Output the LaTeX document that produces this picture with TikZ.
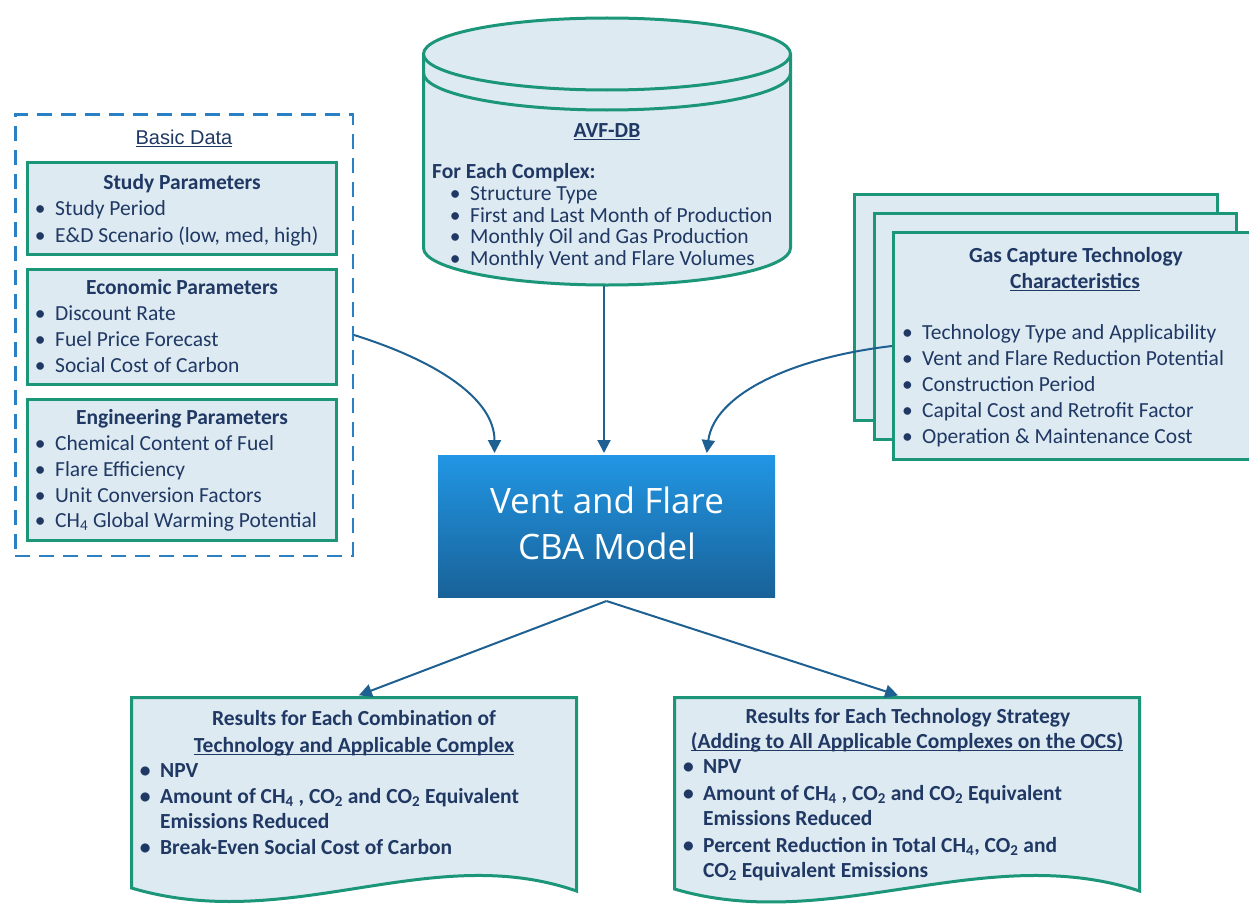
\documentclass[tikz,border=0pt]{standalone}
\usepackage{fontspec}
\setmainfont{Carlito}
\newfontfamily\arialf{Liberation Sans}
\newfontfamily\cbaf{Open Sans}
\usetikzlibrary{arrows.meta}
\definecolor{navy}{RGB}{31,56,100}
\definecolor{gborder}{RGB}{28,150,120}
\definecolor{bfill}{RGB}{222,234,241}
\definecolor{dashblue}{RGB}{41,128,196}
\definecolor{arrblue}{RGB}{30,96,145}
\definecolor{cbatop}{RGB}{33,150,228}
\definecolor{cbabot}{RGB}{25,98,152}
\newsavebox\ulbox
\newcommand{\myul}[1]{\sbox\ulbox{#1}\rlap{\rule[-2.8pt]{\wd\ulbox}{1.2pt}}\usebox\ulbox}
\newcommand{\bul}{\llap{\textbullet\hspace{9.5pt}}}
\begin{document}
\begin{tikzpicture}[x=1pt,y=-1pt,
  gbox/.style={draw=gborder, line width=3pt, fill=bfill, inner sep=0pt, anchor=north west},
  txt/.style={inner sep=0pt, text=navy, font=\fontsize{21.5pt}{26pt}\selectfont},
  ttl/.style={txt, anchor=base, font=\fontsize{21.5pt}{26pt}\selectfont\bfseries},
  itm/.style={txt, anchor=base west},
  bitm/.style={txt, anchor=base west, font=\fontsize{21.5pt}{26pt}\selectfont\bfseries},
  cbatxt/.style={inner sep=0pt, anchor=base, text=white, font=\cbaf\fontsize{35pt}{42pt}\selectfont},
  arr/.style={draw=arrblue, line width=2pt, -{Triangle[width=13pt,length=13pt]}, shorten >=2pt},
  docshape/.style={draw=gborder, fill=bfill, line width=3pt}
]
\useasboundingbox (0,0) rectangle (1249,907);

% ---------- Basic data ----------
\node[draw=dashblue, line width=2.5pt, dash pattern=on 15pt off 9pt, minimum width=337.5pt, minimum height=441.5pt, anchor=north west, inner sep=0pt] (basic) at (14,113) {};
\node[txt, anchor=base, font=\arialf\fontsize{20pt}{24pt}\selectfont] (basicT) at (184,144) {\myul{Basic Data}};

\node[gbox, minimum width=309pt, minimum height=92pt] (study) at (26,161) {};
\node[ttl] (studyT) at (182,189) {Study Parameters};
\node[itm] (study1) at (55,215) {\bul Study Period};
\node[itm] (study2) at (55,242) {\bul E\&D Scenario (low, med, high)};

\node[gbox, minimum width=309pt, minimum height=115pt] (econ) at (26,268) {};
\node[ttl] (econT) at (182,294) {Economic Parameters};
\node[itm] (econ1) at (55,320) {\bul Discount Rate};
\node[itm] (econ2) at (55,346) {\bul Fuel Price Forecast};
\node[itm] (econ3) at (55,372) {\bul Social Cost of Carbon};

\node[gbox, minimum width=309pt, minimum height=141pt] (eng) at (26,398) {};
\node[ttl] (engT) at (182,424) {Engineering Parameters};
\node[itm] (eng1) at (55,450) {\bul Chemical Content of Fuel};
\node[itm] (eng2) at (55,476) {\bul Flare Efficiency};
\node[itm] (eng3) at (55,502) {\bul Unit Conversion Factors};
\node[itm] (eng4) at (55,527) {\bul CH\textsubscript{4} Global Warming Potential};

% ---------- AVF-DB cylinder ----------
\fill[bfill] (423.5,54) -- (423.5,248) .. controls (423.5,268.4) and (505.5,285) .. (607,285) .. controls (708.5,285) and (790.5,268.4) .. (790.5,248) -- (790.5,54) -- cycle;
\draw[gborder, line width=3pt] (423.5,54) -- (423.5,248) .. controls (423.5,268.4) and (505.5,285) .. (607,285) .. controls (708.5,285) and (790.5,268.4) .. (790.5,248) -- (790.5,54);
\draw[gborder, line width=3pt, fill=bfill] (607,54) ellipse [x radius=183.5, y radius=36];
\draw[gborder, line width=3pt] (423.5,73) .. controls (423.5,93.4) and (505.5,110) .. (607,110) .. controls (708.5,110) and (790.5,93.4) .. (790.5,73);
\coordinate (cylbot) at (604,286);

\node[ttl] (avf) at (607,137) {\myul{AVF-DB}};
\node[bitm] (fec) at (432,178) {For Each Complex:};
\node[itm] (avf1) at (470,200) {\bul Structure Type};
\node[itm] (avf2) at (470,222) {\bul First and Last Month of Production};
\node[itm] (avf3) at (470,243) {\bul Monthly Oil and Gas Production};
\node[itm] (avf4) at (470,265) {\bul Monthly Vent and Flare Volumes};

% ---------- Gas capture stack ----------
\node[gbox, minimum width=363pt, minimum height=226pt] (gasB) at (853,193) {};
\node[gbox, minimum width=362pt, minimum height=226pt] (gasM) at (873,212) {};
\node[gbox, minimum width=357pt, minimum height=227pt] (gasF) at (892,231) {};
\node[ttl] (gasT1) at (1076,262) {Gas Capture Technology};
\node[ttl] (gasT2) at (1075,288) {\myul{Characteristics}};
\node[itm] (gas1) at (922,339) {\bul Technology Type and Applicability};
\node[itm] (gas2) at (922,365) {\bul Vent and Flare Reduction Potential};
\node[itm] (gas3) at (922,391) {\bul Construction Period};
\node[itm] (gas4) at (922,417) {\bul Capital Cost and Retrofit Factor};
\node[itm] (gas5) at (922,443) {\bul Operation \& Maintenance Cost};

% ---------- CBA model ----------
\node[top color=cbatop, bottom color=cbabot, minimum width=337pt, minimum height=142pt, anchor=north west, inner sep=0pt, outer sep=0pt] (cba) at (438,455) {};
\node[cbatxt] (cba1) at (607,513) {Vent and Flare};
\node[cbatxt] (cba2) at (607,559) {CBA Model};

% ---------- Results ----------
\draw[docshape] (131.5,697.5) -- (576.5,697.5) -- (576.5,891) .. controls (430,840) and (290,935) .. (131.5,888) -- cycle;
\coordinate (resL) at (357,696);
\node[ttl] (rl1) at (354,725) {Results for Each Combination of};
\node[ttl] (rl2) at (354,752) {\myul{Technology and Applicable Complex}};
\node[bitm] (rla) at (160,777) {\bul NPV};
\node[bitm] (rlb) at (160,803) {\bul Amount of CH\textsubscript{4} , CO\textsubscript{2} and CO\textsubscript{2} Equivalent};
\node[bitm] (rlc) at (160,828) {Emissions Reduced};
\node[bitm] (rld) at (160,854) {\bul Break-Even Social Cost of Carbon};

\draw[docshape] (674.5,697.5) -- (1139.5,697.5) -- (1139.5,891) .. controls (985,840) and (830,935) .. (674.5,889) -- cycle;
\coordinate (resR) at (900,696);
\node[ttl] (rr1) at (908,723) {Results for Each Technology Strategy};
\node[ttl] (rr2) at (907,748) {\myul{(Adding to All Applicable Complexes on the OCS)}};
\node[bitm] (rra) at (703,773) {\bul NPV};
\node[bitm] (rrb) at (703,800) {\bul Amount of CH\textsubscript{4} , CO\textsubscript{2} and CO\textsubscript{2} Equivalent};
\node[bitm] (rrc) at (703,825) {Emissions Reduced};
\node[bitm] (rrd) at (703,852) {\bul Percent Reduction in Total CH\textsubscript{4}, CO\textsubscript{2} and};
\node[bitm] (rre) at (703,877) {CO\textsubscript{2} Equivalent Emissions};

% ---------- Connectors ----------
\draw[arr] (basic.east) .. controls (440,362) and (494.5,400) .. ([xshift=-112pt]cba.north);
\draw[arr] (cylbot) -- (cylbot |- cba.north);
\draw[arr] (gasF.west) .. controls (790,358) and (714,395) .. ([xshift=100pt]cba.north);
\draw[arr] ([yshift=-4pt]cba.south) -- (resL);
\draw[arr] ([yshift=-4pt]cba.south) -- (resR);
\end{tikzpicture}
\end{document}
